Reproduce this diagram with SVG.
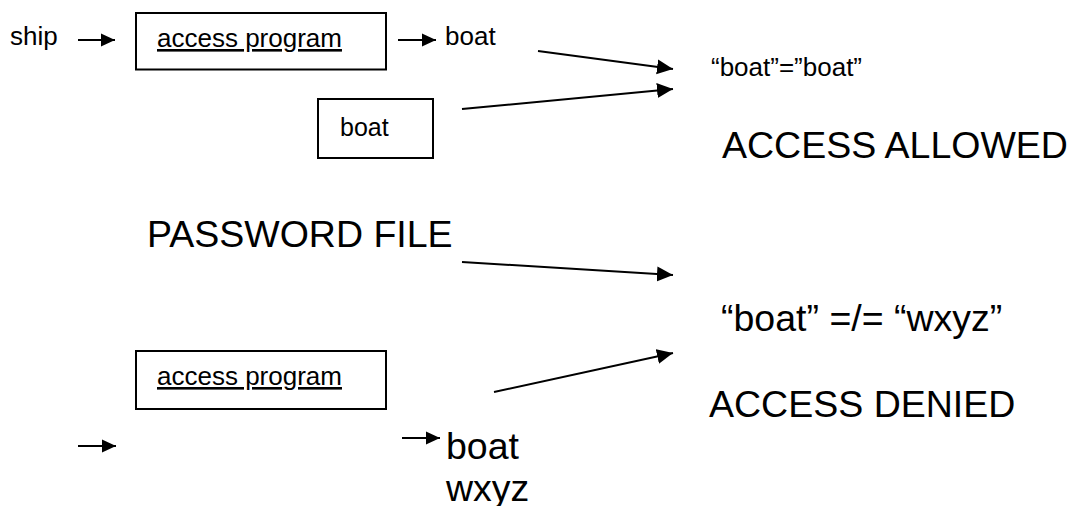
<svg xmlns="http://www.w3.org/2000/svg" width="1073" height="506" viewBox="0 0 1073 506">
<style>
text{font-family:"Liberation Sans",Arial,sans-serif;fill:#000}
.s{font-size:26px}
.l{font-size:37.5px}
.u{text-decoration:underline}
.box{fill:#fff;stroke:#000;stroke-width:2}
.c{stroke:#000;stroke-width:2;fill:none}
</style>
<defs>
<marker id="ah" markerUnits="userSpaceOnUse" markerWidth="18" markerHeight="18" viewBox="0 0 18 18" refX="16" refY="9" orient="auto">
<path d="M0,1.5 L16,9 L0,16.5 Z" fill="#000"/>
</marker>
<marker id="as" markerUnits="userSpaceOnUse" markerWidth="16" markerHeight="16" viewBox="0 0 16 16" refX="14" refY="8" orient="auto">
<path d="M0,1.5 L14,8 L0,14.5 Z" fill="#000"/>
</marker>
</defs>
<rect width="1073" height="506" fill="#fff"/>
<g id="connectors">
<line class="c" x1="78" y1="40" x2="115" y2="40" marker-end="url(#as)"/>
<line class="c" x1="398" y1="40" x2="436" y2="40" marker-end="url(#as)"/>
<line class="c" x1="538" y1="51" x2="673" y2="69" marker-end="url(#ah)"/>
<line class="c" x1="462" y1="109" x2="673" y2="89" marker-end="url(#ah)"/>
<line class="c" x1="462" y1="262" x2="673" y2="275" marker-end="url(#ah)"/>
<line class="c" x1="494" y1="392" x2="673" y2="353" marker-end="url(#ah)"/>
<line class="c" x1="78" y1="446" x2="116" y2="446" marker-end="url(#as)"/>
<line class="c" x1="402" y1="438" x2="440" y2="438" marker-end="url(#as)"/>
</g>
<g id="ship"><text class="s" x="10" y="45">ship</text></g>
<g id="access-program-top">
<rect class="box" x="136" y="13" width="250" height="56.5"/>
<text class="s u" x="157" y="47">access program</text>
</g>
<g id="boat-out-top"><text class="s" x="445" y="45">boat</text></g>
<g id="boat-file">
<rect class="box" x="318" y="99" width="115" height="59"/>
<text class="s" x="340" y="136" style="font-size:25px">boat</text>
</g>
<g id="compare-equal"><text class="s" x="711" y="76">“boat”=”boat”</text></g>
<g id="access-allowed"><text class="l" x="722" y="158">ACCESS ALLOWED</text></g>
<g id="password-file"><text class="l" x="147" y="247">PASSWORD FILE</text></g>
<g id="compare-notequal"><text class="l" x="721" y="331">“boat” =/= “wxyz”</text></g>
<g id="access-denied"><text class="l" x="709" y="417">ACCESS DENIED</text></g>
<g id="access-program-bottom">
<rect class="box" x="136" y="351" width="250" height="58"/>
<text class="s u" x="157" y="385">access program</text>
</g>
<g id="boat-wxyz">
<text class="l" x="446" y="459">boat</text>
<text class="l" x="446" y="501">wxyz</text>
</g>
</svg>
